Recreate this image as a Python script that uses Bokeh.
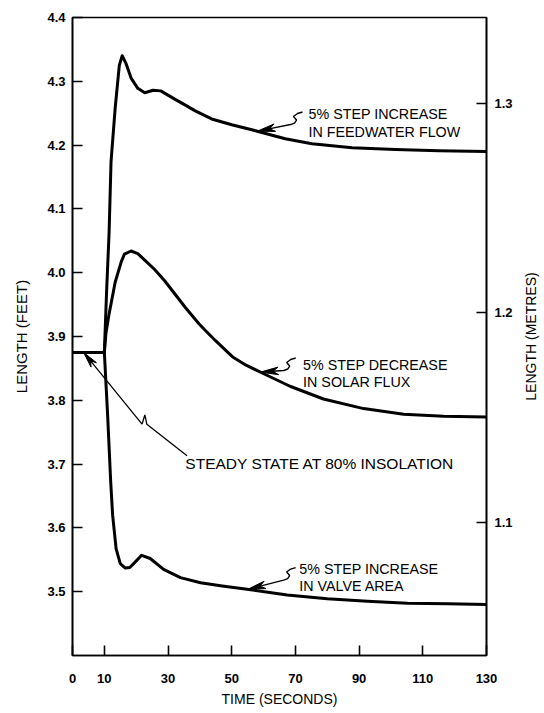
import math
import numpy as np
from bokeh.plotting import figure
from bokeh.layouts import row
from bokeh.models import Range1d, LinearAxis, FixedTicker, PrintfTickFormatter, Label, Title
from bokeh.embed import file_html
from bokeh.resources import INLINE

# ---------------- data ----------------
FT_PER_M = 3.2808

t_feed = [0, 10, 10.7, 11.5, 12.1, 13.4, 14.7, 15.6, 16.8, 18.4, 20.5, 22.7, 25.3, 27.7,
          32.1, 35.3, 38.4, 43.7, 50, 56.3, 66.8, 75.2, 87.8, 101.4, 115, 130]
feed_ft = [3.875, 3.875, 3.970, 4.064, 4.174, 4.258, 4.325, 4.340, 4.328, 4.305, 4.289, 4.282,
           4.286, 4.285, 4.272, 4.263, 4.254, 4.241, 4.232, 4.224, 4.210, 4.202, 4.196, 4.193,
           4.191, 4.190]

t_solar = [0, 10, 10.5, 11.4, 13.4, 15.3, 16.3, 18.4, 20.5, 22.6, 25.8, 29.0, 35.5, 39.7,
           41.8, 45.0, 48.2, 50.3, 54.5, 59.9, 68.3, 78.8, 91.4, 104, 116.5, 130]
solar_ft = [3.875, 3.875, 3.905, 3.933, 3.985, 4.017, 4.029, 4.034, 4.030, 4.020, 4.005,
            3.987, 3.945, 3.920, 3.909, 3.893, 3.878, 3.868, 3.855, 3.842, 3.822, 3.802,
            3.787, 3.778, 3.775, 3.774]

t_valve = [0, 10, 11.0, 12.0, 12.6, 13.7, 15.0, 16.6, 18.0, 19.2, 21.7, 24.4, 28.6, 33.9,
           40.2, 47, 56, 67.4, 80, 92.6, 105.2, 117.8, 130]
valve_ft = [3.875, 3.875, 3.780, 3.672, 3.620, 3.567, 3.544, 3.537, 3.538, 3.544, 3.557,
            3.552, 3.535, 3.522, 3.514, 3.509, 3.503, 3.495, 3.489, 3.485, 3.482, 3.481, 3.480]

x_ticks = [0, 10, 30, 50, 70, 90, 110, 130]
ft_ticks = [3.5, 3.6, 3.7, 3.8, 3.9, 4.0, 4.1, 4.2, 4.3, 4.4]
m_ticks = [1.1, 1.2, 1.3]

callouts = [
    # (series t, series v, tip time, lines of text)
    (t_feed, feed_ft, 58.0, ["5% STEP INCREASE", "IN FEEDWATER FLOW"]),
    (t_solar, solar_ft, 59.0, ["5% STEP DECREASE", "IN SOLAR FLUX"]),
    (t_valve, valve_ft, 55.0, ["5% STEP INCREASE", "IN VALVE AREA"]),
]
steady_text = "STEADY STATE AT 80% INSOLATION"
steady_tip_t = 3.5

# ---------------- layout / style ----------------
FONT = "Liberation Sans"
W, H = 520, 710
ML, MR, MT, MB = 72, 34, 17, 55
FW, FH = W - ML - MR, H - MT - MB
SX = FW / 130.0        # px per second
SY = FH / 1.0          # px per foot

p = figure(width=W, height=H, x_range=Range1d(0, 130), y_range=Range1d(3.4, 4.4),
           output_backend="svg", toolbar_location=None,
           min_border_left=ML, min_border_right=MR, min_border_top=MT, min_border_bottom=MB,
           x_axis_label="TIME (SECONDS)", y_axis_label="LENGTH (FEET)")
p.background_fill_color = "white"
p.border_fill_color = "white"
p.grid.visible = False
p.outline_line_color = "black"
p.outline_line_width = 1.6

p.extra_y_ranges = {"m": Range1d(3.4 / FT_PER_M, 4.4 / FT_PER_M)}
raxis = LinearAxis(y_range_name="m")
p.add_layout(raxis, "right")

p.xaxis.ticker = FixedTicker(ticks=x_ticks)
p.yaxis[0].ticker = FixedTicker(ticks=ft_ticks)
raxis.ticker = FixedTicker(ticks=m_ticks)
for ax in [p.xaxis[0], p.yaxis[0], raxis]:
    if ax is not p.xaxis[0]:
        ax.formatter = PrintfTickFormatter(format="%.1f")
    ax.major_tick_in = 10
    ax.major_tick_out = 0
    ax.minor_tick_line_color = None
    ax.axis_line_color = "black"
    ax.axis_line_width = 1.6
    ax.major_tick_line_color = "black"
    ax.major_tick_line_width = 1.6
    ax.major_label_text_font = FONT
    ax.major_label_text_font_size = "13px"
    ax.major_label_text_font_style = "bold"
    ax.major_label_text_color = "black"
    ax.axis_label_text_font = FONT
    ax.axis_label_text_font_style = "normal"
    ax.axis_label_text_color = "black"

p.xaxis.major_label_standoff = 18
p.xaxis.axis_label_standoff = 5
p.xaxis.axis_label_text_font_size = "14px"
p.yaxis[0].major_label_standoff = 7
p.yaxis[0].axis_label_standoff = 14
p.yaxis[0].axis_label_text_font_size = "15px"
raxis.major_label_standoff = 8

# curves
for tt, vv in [(t_feed, feed_ft), (t_solar, solar_ft), (t_valve, valve_ft)]:
    p.line(tt, vv, line_width=3, line_color="black", line_join="round", line_cap="round")


def to_data(t0, v0, offs):
    return [t0 + dx / SX for dx, dy in offs], [v0 - dy / SY for dx, dy in offs]


def arrowhead(t0, v0, ux, uy, L=18, w=3.8):
    nx, ny = -uy, ux
    pts = [(0, 0), (ux * L + nx * w, uy * L + ny * w), (ux * 0.7 * L, uy * 0.7 * L),
           (ux * L - nx * w, uy * L - ny * w)]
    xs, ys = to_data(t0, v0, pts)
    p.patch(xs, ys, fill_color="black", line_color="black", line_width=1)


# geometry of each callout in px relative to its arrow tip (dx right, dy down)
geo = [
    ((33.3, -6.7), (51.3, -17.7), 18.0),
    ((23.3, -1.6), (42.7, -7.3), 17.3),
    ((36.0, -9.3), (51.6, -20.7), 17.4),
]
S_SHAPE = [(0, 0), (4, -1.5), (6, -4.5), (3, -8), (7, -11), (12, -12.5)]

for (tt, vv, ttip, lines), (J, T, dl) in zip(callouts, geo):
    vtip = float(np.interp(ttip, tt, vv))
    ln = math.hypot(*J)
    ux, uy = J[0] / ln, J[1] / ln
    arrowhead(ttip, vtip, ux, uy)
    offs = [(ux * 12, uy * 12)] + [(J[0] + sx_, J[1] + sy_) for sx_, sy_ in S_SHAPE]
    xs, ys = to_data(ttip, vtip, offs)
    p.line(xs, ys, line_width=1.4, line_color="black")
    for i, txt in enumerate(lines):
        lx, ly = to_data(ttip, vtip, [(T[0], T[1] + i * dl)])
        p.add_layout(Label(x=lx[0], y=ly[0], text=txt, text_font=FONT, text_font_size="14.3px",
                           text_baseline="middle", text_align="left", text_color="black"))

# steady state callout
v_st = float(np.interp(steady_tip_t, t_feed, feed_ft))
st_path = [(58.4, 71.7), (61.2, 62.5), (63.2, 71.7), (103.4, 103.3)]
ln = math.hypot(*st_path[0])
ux, uy = st_path[0][0] / ln, st_path[0][1] / ln
arrowhead(steady_tip_t, v_st, ux, uy, L=16, w=3.5)
xs, ys = to_data(steady_tip_t, v_st, [(ux * 10, uy * 10)] + st_path)
p.line(xs, ys, line_width=1.3, line_color="black")
lx, ly = to_data(steady_tip_t, v_st, [(101.7, 111.0)])
p.add_layout(Label(x=lx[0], y=ly[0], text=steady_text, text_font=FONT, text_font_size="15.5px",
                   text_baseline="middle", text_align="left", text_color="black"))

# right-hand axis title (reads bottom to top, as in the original)
p2 = figure(width=22, height=H, x_range=Range1d(0, 1), y_range=Range1d(0, 1),
            output_backend="svg", toolbar_location=None,
            min_border_left=0, min_border_right=0, min_border_top=MT, min_border_bottom=MB)
p2.axis.visible = False
p2.grid.visible = False
p2.outline_line_color = None
p2.background_fill_color = "white"
p2.border_fill_color = "white"
p2.add_layout(Title(text="LENGTH (METRES)", align="center", text_font=FONT,
                    text_font_size="14px", text_font_style="normal", text_color="black",
                    standoff=0, offset=0), "left")

open("out.html", "w").write(file_html(row(p, p2), INLINE))
